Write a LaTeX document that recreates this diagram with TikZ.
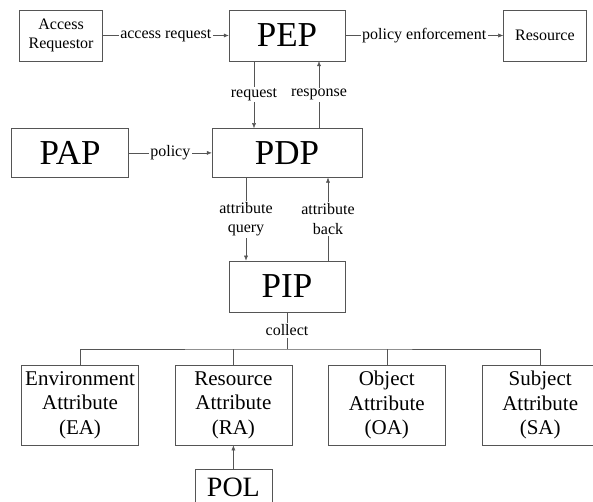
\documentclass[tikz,border=0pt]{standalone}
\usepackage{fontspec}
\setmainfont{Liberation Serif}
\usetikzlibrary{arrows.meta, positioning, calc}
\definecolor{linegray}{HTML}{555555}

\begin{document}
\begin{tikzpicture}[x=1pt, y=1pt,
      box/.style={draw=linegray, minimum width=117pt, minimum height=49pt,
                  align=center, inner sep=0pt},
      bigbox/.style={box, font=\fontsize{35}{40}\selectfont},
      smallbox/.style={box, minimum width=83pt, minimum height=51pt,
                       font=\fontsize{16}{19}\selectfont},
      attrbox/.style={box, minimum height=80pt,
                      font=\fontsize{21}{24.5}\selectfont},
      lbl/.style={fill=white, text=black, inner sep=1.5pt, align=center,
                  font=\fontsize{16}{19.5}\selectfont},
      arr/.style={-{Latex[length=5pt, width=4pt]}, linegray},
      link/.style={linegray},
    ]
    \useasboundingbox (0,0) rectangle (593,-502);

    % ── Row 1: requestor, enforcement point, resource ──
    \node[bigbox, minimum width=116pt, minimum height=51pt]
          (pep) at (287,-35.5) {PEP};
    \node[smallbox, left=126pt of pep]  (requestor) {Access\\Requestor};
    \node[smallbox, right=158pt of pep] (resource)  {Resource};
    \draw[arr] (requestor) -- (pep)
      node[midway, lbl] {access request};
    \draw[arr] (pep) -- (resource)
      node[midway, lbl] {policy enforcement};

    % ── Row 2: administration and decision points ──
    \node[bigbox, minimum width=150pt, below=67pt of pep] (pdp) {PDP};
    \node[bigbox, left=83pt of pdp] (pap) {PAP};
    \draw[arr] (pap) -- (pdp) node[midway, lbl] {policy};
    \draw[arr] ([xshift=-33pt]pep.south) -- ([xshift=-33pt]pdp.north)
      node[midway, lbl] {request};
    \draw[arr] ([xshift=32pt]pdp.north) -- ([xshift=32pt]pep.south)
      node[midway, lbl] {response};

    % ── Row 3: information point ──
    \node[bigbox, minimum width=116pt, minimum height=51pt, below=83pt of pdp]
          (pip) {PIP};
    \draw[arr] ([xshift=-41pt]pdp.south) -- ([xshift=-41pt]pip.north)
      node[midway, lbl] {attribute\\query};
    \draw[arr] ([xshift=41pt]pip.north) -- ([xshift=41pt]pdp.south)
      node[midway, lbl] {attribute\\back};

    % ── Row 4: attribute sources ──
    \node[attrbox, below=53pt of pip, xshift=-207pt] (ea) {Environment\\Attribute\\(EA)};
    \node[attrbox, right=36pt of ea] (ra) {Resource\\Attribute\\(RA)};
    \node[attrbox, right=36pt of ra] (oa) {Object\\Attribute\\(OA)};
    \node[attrbox, right=36pt of oa] (sa) {Subject\\Attribute\\(SA)};

    % collect bus from PIP to all attribute boxes
    \coordinate (bus) at ($(pip.south)+(0,-37pt)$);
    \draw[link] (pip.south) -- (bus) node[midway, lbl] {collect};
    \draw[link] (ea.north) |- (bus) -| (sa.north);
    \draw[link] (ra.north) -- (ra.north |- bus);
    \draw[link] (oa.north) -- (oa.north |- bus);

    % ── Row 5: POL feeding resource attributes ──
    \node[box, minimum width=77pt, minimum height=35pt, below=24pt of ra,
          font=\fontsize{28}{32}\selectfont] (pol) {POL};
    \draw[arr] (pol) -- (ra);
\end{tikzpicture}
\end{document}
